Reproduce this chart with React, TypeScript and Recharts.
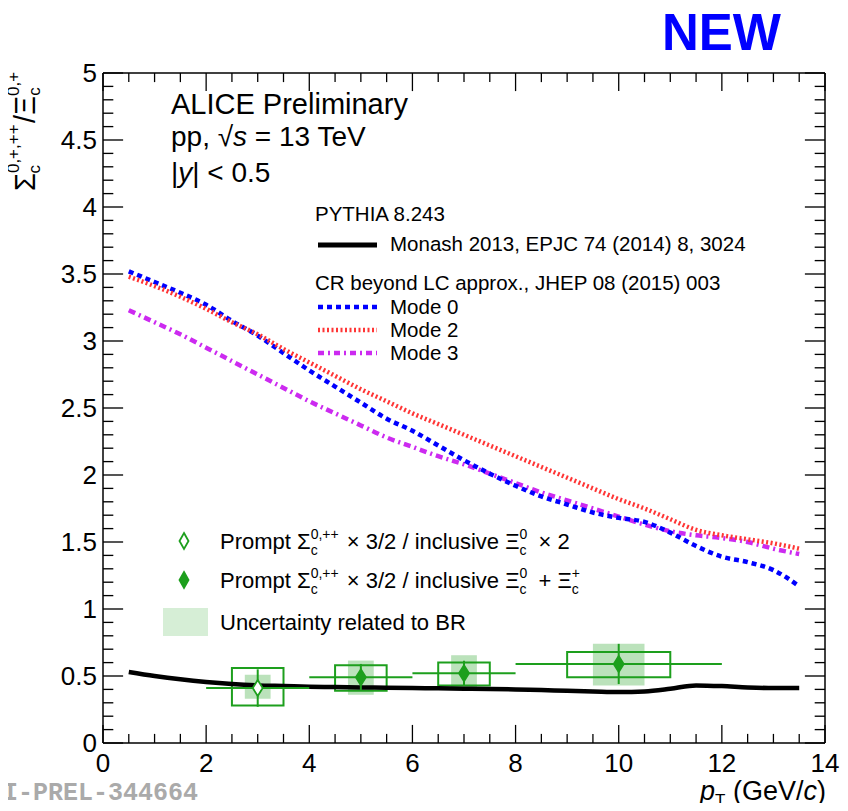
import React from "react";
import {
  ComposedChart,
  Line,
  Scatter,
  XAxis,
  YAxis,
  ErrorBar,
  ReferenceArea,
  ReferenceLine,
} from "recharts";

// ---------- axis ticks ----------
const xTicks = [0, 2, 4, 6, 8, 10, 12, 14];
const yTicks = [0, 0.5, 1, 1.5, 2, 2.5, 3, 3.5, 4, 4.5, 5];

// ---------- PYTHIA model curves (pT grid shared) ----------
const modelPt = [0.5, 1, 1.5, 2, 2.5, 3, 3.5, 4, 4.5, 5, 5.5, 6, 6.5, 7, 7.5, 8, 8.5, 9, 9.5, 10, 10.5, 11, 11.5, 12, 12.5, 13, 13.5];
const monashRatio = [0.53, 0.5, 0.475, 0.455, 0.44, 0.43, 0.425, 0.42, 0.418, 0.415, 0.413, 0.41, 0.408, 0.405, 0.403, 0.4, 0.395, 0.39, 0.385, 0.38, 0.385, 0.405, 0.43, 0.425, 0.415, 0.41, 0.41];
const mode0Ratio = [3.52, 3.44, 3.36, 3.27, 3.15, 3.04, 2.91, 2.78, 2.66, 2.54, 2.42, 2.33, 2.22, 2.11, 2.01, 1.92, 1.84, 1.78, 1.72, 1.68, 1.65, 1.57, 1.47, 1.39, 1.35, 1.29, 1.17];
const mode2Ratio = [3.48, 3.41, 3.33, 3.24, 3.14, 3.05, 2.94, 2.84, 2.74, 2.64, 2.55, 2.46, 2.38, 2.3, 2.22, 2.14, 2.06, 1.98, 1.9, 1.82, 1.75, 1.67, 1.59, 1.55, 1.52, 1.49, 1.45];
const mode3Ratio = [3.23, 3.14, 3.05, 2.95, 2.85, 2.75, 2.65, 2.55, 2.46, 2.37, 2.28, 2.21, 2.14, 2.08, 2.01, 1.94, 1.87, 1.81, 1.75, 1.69, 1.63, 1.58, 1.55, 1.53, 1.5, 1.45, 1.41];

// ---------- ALICE data points ----------
const pointPt = [3, 5, 7, 10];
const pointRatio = [0.41, 0.49, 0.52, 0.59];
const pointHollow = [true, false, false, false];
const binLow = [2, 4, 6, 8];
const binHigh = [4, 6, 8, 12];
const statErr = [0.14, 0.1, 0.094, 0.15];
const sysLow = [0.28, 0.39, 0.43, 0.49];
const sysHigh = [0.56, 0.58, 0.6, 0.68];
const sysHalfWidth = [0.5, 0.5, 0.5, 1.0];
const brLow = [0.33, 0.36, 0.4, 0.43];
const brHigh = [0.51, 0.615, 0.655, 0.74];
const brHalfWidth = [0.25, 0.25, 0.25, 0.5];

const FONT = "'Liberation Sans', Arial, Helvetica, sans-serif";
const GREEN = "#1d9f1d";
const BLUE = "#0000ff";
const RED = "#ff3535";
const MAGENTA = "#cc2af0";

const toSeries = (ys: number[]) => modelPt.map((x, i) => ({ x, y: ys[i] }));
const monashData = toSeries(monashRatio);
const mode0Data = toSeries(mode0Ratio);
const mode2Data = toSeries(mode2Ratio);
const mode3Data = toSeries(mode3Ratio);

const pointData = pointPt.map((x, i) => ({
  x,
  y: pointRatio[i],
  hollow: pointHollow[i],
  ex: [x - binLow[i], binHigh[i] - x],
  ey: [statErr[i], statErr[i]],
}));
const hollowPoints = pointData.filter((p) => p.hollow);
const filledPoints = pointData.filter((p) => !p.hollow);

// ROOT-style inside tick marks (axis decoration)
const yMinor: number[] = [];
for (let i = 0; i <= 50; i++) if (i % 5 !== 0) yMinor.push(i / 10);
const xMinor: number[] = [];
for (let i = 0; i <= 28; i++) if (i % 4 !== 0) xMinor.push(i / 2);
const Y_MAJ = 0.39; // length in pT units (~20px)
const Y_MIN = 0.2;
const X_MAJ = 0.135; // length in ratio units (~18px)
const X_MIN = 0.068;
const HY = 0.005; // half thickness of horizontal tick (ratio units)
const HX = 0.0125; // half thickness of vertical tick (pT units)

const Diamond = (props: any) => {
  const { cx, cy, payload } = props;
  if (cx == null || cy == null) return null;
  const hollow = payload && payload.hollow;
  return (
    <polygon
      points={`${cx},${cy - 8} ${cx + 5},${cy} ${cx},${cy + 8} ${cx - 5},${cy}`}
      fill={hollow ? "#ffffff" : GREEN}
      stroke={GREEN}
      strokeWidth={1.8}
    />
  );
};

const hTick = (key: string, xa: number, xb: number, y: number) => (
  <ReferenceArea key={key} x1={xa} x2={xb} y1={y - HY} y2={y + HY} fill="#000" fillOpacity={1} stroke="none" ifOverflow="visible" />
);
const vTick = (key: string, x: number, ya: number, yb: number) => (
  <ReferenceArea key={key} x1={x - HX} x2={x + HX} y1={ya} y2={yb} fill="#000" fillOpacity={1} stroke="none" ifOverflow="visible" />
);

const Overlay = () => (
  <svg
    width={848}
    height={811}
    style={{ position: "absolute", left: -8, top: -8, pointerEvents: "none" }}
    fontFamily={FONT}
  >
    {/* NEW */}
    <text x={662} y={50} fontSize={51} fontWeight="bold" fill="#0000ff">NEW</text>
    {/* watermark */}
    <text x={3} y={800} fontSize={25} fontWeight="bold" fill="#aaaaaa" fontFamily="'Liberation Mono', 'DejaVu Sans Mono', monospace">I-PREL-344664</text>

    {/* headline */}
    <text x={171} y={114} fontSize={29} fill="#000">ALICE Preliminary</text>
    <text x={171} y={146} fontSize={28} fill="#000">
      pp, √<tspan fontStyle="italic">s</tspan> = 13 TeV
    </text>
    <text x={171} y={182} fontSize={28} fill="#000">
      |<tspan fontStyle="italic">y</tspan>| &lt; 0.5
    </text>

    {/* model legend */}
    <text x={315} y={221} fontSize={20.5} fill="#000">PYTHIA 8.243</text>
    <line x1={318} y1={245} x2={377} y2={245} stroke="#000" strokeWidth={5} />
    <text x={390} y={251} fontSize={20.5} fill="#000">Monash 2013, EPJC 74 (2014) 8, 3024</text>
    <text x={315} y={290} fontSize={20.5} fill="#000">CR beyond LC approx., JHEP 08 (2015) 003</text>
    <line x1={318} y1={307} x2={377} y2={307} stroke={BLUE} strokeWidth={4.5} strokeDasharray="5 4" />
    <text x={390} y={314} fontSize={20.5} fill="#000">Mode 0</text>
    <line x1={318} y1={330} x2={377} y2={330} stroke={RED} strokeWidth={4.5} strokeDasharray="2 2.5" />
    <text x={390} y={337} fontSize={20.5} fill="#000">Mode 2</text>
    <line x1={318} y1={353} x2={377} y2={353} stroke={MAGENTA} strokeWidth={4.5} strokeDasharray="6 4 2 4" />
    <text x={390} y={360} fontSize={20.5} fill="#000">Mode 3</text>

    {/* data legend */}
    <polygon points="184,533 188.5,541 184,549 179.5,541" fill="#fff" stroke={GREEN} strokeWidth={1.8} />
    <text x={220} y={549} fontSize={22} fill="#000">
      Prompt Σ<tspan fontSize={14} dy={-10}>0,++</tspan>
      <tspan fontSize={14} dx={-28} dy={16}>c</tspan>
      <tspan dx={23} dy={-6}> × 3/2 / inclusive Ξ</tspan>
      <tspan fontSize={14} dy={-10}>0</tspan>
      <tspan fontSize={14} dx={-7.8} dy={16}>c</tspan>
      <tspan dx={6} dy={-6}> × 2</tspan>
    </text>
    <polygon points="184,572 188.5,580 184,588 179.5,580" fill={GREEN} stroke={GREEN} strokeWidth={1.8} />
    <text x={220} y={588} fontSize={22} fill="#000">
      Prompt Σ<tspan fontSize={14} dy={-10}>0,++</tspan>
      <tspan fontSize={14} dx={-28} dy={16}>c</tspan>
      <tspan dx={23} dy={-6}> × 3/2 / inclusive Ξ</tspan>
      <tspan fontSize={14} dy={-10}>0</tspan>
      <tspan fontSize={14} dx={-7.8} dy={16}>c</tspan>
      <tspan dx={6} dy={-6}> + Ξ</tspan>
      <tspan fontSize={14} dy={-10}>+</tspan>
      <tspan fontSize={14} dx={-8.2} dy={16}>c</tspan>
    </text>
    <rect x={163} y={608} width={45} height={28} fill={GREEN} fillOpacity={0.18} />
    <text x={220} y={630} fontSize={22} fill="#000">Uncertainty related to BR</text>

    {/* y-axis title */}
    <text transform="translate(35,191) rotate(-90)" fontSize={29} fill="#000">
      Σ<tspan fontSize={17} dy={-16}>0,+,++</tspan>
      <tspan fontSize={17} dx={-49} dy={21}>c</tspan>
      <tspan dx={42} dy={-5}>/Ξ</tspan>
      <tspan fontSize={17} dy={-16}>0,+</tspan>
      <tspan fontSize={17} dx={-24} dy={21}>c</tspan>
    </text>

    {/* x-axis title */}
    <text x={826} y={800} fontSize={27} fill="#000" textAnchor="end">
      <tspan fontStyle="italic">p</tspan>
      <tspan fontSize={17} dy={6}>T</tspan>
      <tspan dy={-6}> (GeV/</tspan>
      <tspan fontStyle="italic">c</tspan>)
    </text>
  </svg>
);

export default function App() {
  return (
    <div style={{ position: "relative", width: 832, height: 795 }}>
      <ComposedChart
        width={832}
        height={795}
        margin={{ top: 65, right: 15, bottom: 30, left: 15 }}
      >
        <XAxis
          type="number"
          dataKey="x"
          domain={[0, 14]}
          ticks={xTicks}
          interval={0}
          allowDataOverflow
          height={30}
          tickSize={0}
          tickMargin={11}
          tickLine={false}
          axisLine={{ stroke: "#000", strokeWidth: 1.5 }}
          tick={{ fill: "#000", fontSize: 26, fontFamily: FONT }}
        />
        <YAxis
          type="number"
          dataKey="y"
          domain={[0, 5]}
          ticks={yTicks}
          interval={0}
          allowDataOverflow
          width={80}
          tickSize={0}
          tickMargin={6}
          tickLine={false}
          axisLine={{ stroke: "#000", strokeWidth: 1.5 }}
          tick={{ fill: "#000", fontSize: 26, fontFamily: FONT }}
        />

        {/* frame top / right */}
        <ReferenceLine y={5} stroke="#000" strokeWidth={1.5} ifOverflow="visible" />
        <ReferenceLine x={14} stroke="#000" strokeWidth={1.5} ifOverflow="visible" />

        {/* y ticks left & right */}
        {yTicks.map((v) => hTick(`yl${v}`, 0, Y_MAJ, v))}
        {yTicks.map((v) => hTick(`yr${v}`, 14 - Y_MAJ, 14, v))}
        {yMinor.map((v) => hTick(`yml${v}`, 0, Y_MIN, v))}
        {yMinor.map((v) => hTick(`ymr${v}`, 14 - Y_MIN, 14, v))}
        {/* x ticks bottom & top */}
        {xTicks.map((v) => vTick(`xb${v}`, v, 0, X_MAJ))}
        {xTicks.map((v) => vTick(`xt${v}`, v, 5 - X_MAJ, 5))}
        {xMinor.map((v) => vTick(`xmb${v}`, v, 0, X_MIN))}
        {xMinor.map((v) => vTick(`xmt${v}`, v, 5 - X_MIN, 5))}

        {/* BR uncertainty shading */}
        {pointPt.map((x, i) => (
          <ReferenceArea
            key={`br${i}`}
            x1={x - brHalfWidth[i]}
            x2={x + brHalfWidth[i]}
            y1={brLow[i]}
            y2={brHigh[i]}
            fill={GREEN}
            fillOpacity={0.3}
            stroke="none"
          />
        ))}

        {/* models */}
        <Line data={monashData} dataKey="y" type="monotone" stroke="#000" strokeWidth={4.5} dot={false} isAnimationActive={false} />
        <Line data={mode3Data} dataKey="y" type="monotone" stroke={MAGENTA} strokeWidth={4.5} strokeDasharray="7 4 2 4" dot={false} isAnimationActive={false} />
        <Line data={mode0Data} dataKey="y" type="monotone" stroke={BLUE} strokeWidth={4.5} strokeDasharray="5 4" dot={false} isAnimationActive={false} />
        <Line data={mode2Data} dataKey="y" type="monotone" stroke={RED} strokeWidth={4.5} strokeDasharray="2 2.5" dot={false} isAnimationActive={false} />

        {/* systematic boxes */}
        {pointPt.map((x, i) => (
          <ReferenceArea
            key={`sys${i}`}
            x1={x - sysHalfWidth[i]}
            x2={x + sysHalfWidth[i]}
            y1={sysLow[i]}
            y2={sysHigh[i]}
            fill="none"
            fillOpacity={0}
            stroke={GREEN}
            strokeWidth={2}
          />
        ))}

        {/* data points */}
        <Scatter data={hollowPoints} dataKey="y" shape={Diamond} isAnimationActive={false}>
          <ErrorBar dataKey="ex" direction="x" width={0} stroke={GREEN} strokeWidth={2} />
          <ErrorBar dataKey="ey" direction="y" width={0} stroke={GREEN} strokeWidth={2} />
        </Scatter>
        <Scatter data={filledPoints} dataKey="y" shape={Diamond} isAnimationActive={false}>
          <ErrorBar dataKey="ex" direction="x" width={0} stroke={GREEN} strokeWidth={2} />
          <ErrorBar dataKey="ey" direction="y" width={0} stroke={GREEN} strokeWidth={2} />
        </Scatter>
      </ComposedChart>
      <Overlay />
    </div>
  );
}
